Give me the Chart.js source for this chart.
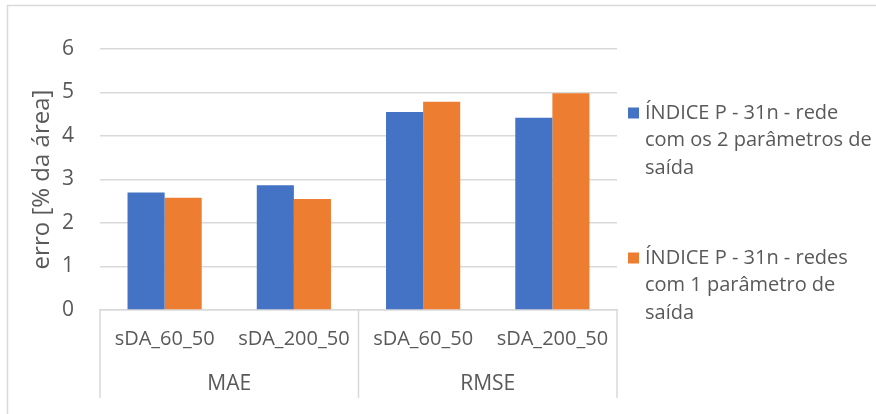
<!DOCTYPE html>
<html>
<head>
<meta charset="utf-8">
<script src="https://cdn.jsdelivr.net/npm/chart.js@4/dist/chart.umd.min.js"></script>
<style>
  html, body { margin: 0; padding: 0; background: #fff; }
  #wrap { width: 876px; height: 414px; position: relative; }
</style>
</head>
<body>
<div id="wrap"><canvas id="c" width="876" height="414"></canvas></div>
<script>
// Error metrics per scenario, grouped by metric
const categories = ['sDA_60_50', 'sDA_200_50', 'sDA_60_50', 'sDA_200_50'];
const groups = ['MAE', 'RMSE'];
const groupOf = [0, 0, 1, 1];

const seriesNames = [
  ['ÍNDICE P - 31n - rede', 'com os 2 parâmetros de', 'saída'],
  ['ÍNDICE P - 31n - redes', 'com 1 parâmetro de', 'saída']
];
const twoOutputNet = [2.70, 2.87, 4.55, 4.42];
const oneOutputNets = [2.58, 2.55, 4.79, 4.98];

const yTicks = [0, 1, 2, 3, 4, 5, 6];

const COLORS = ['#4472C4', '#ED7D31'];
const TEXT = '#595959';
const LINE = '#d9d9d9';
const FONT = "'Open Sans', 'Liberation Sans', sans-serif";

// Frame around the chart
const framePlugin = {
  id: 'frame',
  beforeDraw(chart) {
    const ctx = chart.ctx;
    ctx.save();
    ctx.fillStyle = '#fff';
    ctx.fillRect(0, 0, chart.width, chart.height);
    ctx.strokeStyle = LINE;
    ctx.lineWidth = 1.5;
    ctx.strokeRect(7.5, 5.5, chart.width + 10, chart.height + 10);
    ctx.restore();
  }
};

// Vertical separators between metric groups below the axis
const groupLinesPlugin = {
  id: 'groupLines',
  afterDraw(chart) {
    const xs = chart.scales.x;
    const x2 = chart.scales.x2;
    const n = categories.length;
    const step = (xs.right - xs.left) / n;
    const ctx = chart.ctx;
    const bounds = [0];
    for (let i = 1; i < n; i++) if (groupOf[i] !== groupOf[i - 1]) bounds.push(i);
    bounds.push(n);
    ctx.save();
    ctx.strokeStyle = LINE;
    ctx.lineWidth = 1.5;
    bounds.forEach(b => {
      const x = xs.left + b * step;
      ctx.beginPath();
      ctx.moveTo(x, xs.top);
      ctx.lineTo(x, x2.bottom);
      ctx.stroke();
    });
    ctx.restore();
  }
};

// Legend with wrapped labels to the right of the plot
const wrapLegendPlugin = {
  id: 'wrapLegend',
  afterDraw(chart) {
    const ctx = chart.ctx;
    const area = chart.chartArea;
    const x0 = area.right + 11;
    const lineH = 27.5;
    const itemTops = [area.top + 64, area.top + 209];
    ctx.save();
    ctx.font = '20px ' + FONT;
    ctx.textBaseline = 'middle';
    ctx.fillStyle = TEXT;
    chart.data.datasets.forEach((ds, i) => {
      const y = itemTops[i];
      ctx.fillStyle = ds.backgroundColor;
      ctx.fillRect(x0, y - 5.5, 11, 11);
      ctx.fillStyle = TEXT;
      seriesNames[i].forEach((line, j) => {
        ctx.fillText(line, x0 + 17, y + j * lineH);
      });
    });
    ctx.restore();
  }
};

new Chart(document.getElementById('c'), {
  type: 'bar',
  data: {
    labels: categories,
    datasets: [
      { label: seriesNames[0].join(' '), data: twoOutputNet, backgroundColor: COLORS[0] },
      { label: seriesNames[1].join(' '), data: oneOutputNets, backgroundColor: COLORS[1] }
    ]
  },
  options: {
    responsive: false,
    animation: false,
    devicePixelRatio: 1,
    layout: { padding: { left: 0, top: 49, right: 259, bottom: 16 } },
    datasets: { bar: { categoryPercentage: 0.574, barPercentage: 1.0 } },
    plugins: { legend: { display: false }, tooltip: { enabled: false } },
    scales: {
      y: {
        min: 0, max: 6,
        afterBuildTicks(scale) { scale.ticks = yTicks.map(v => ({ value: v })); },
        afterFit(scale) { scale.width = 100; },
        grid: { color: LINE, lineWidth: 1.5, drawTicks: false },
        border: { display: false },
        ticks: { color: TEXT, font: { family: FONT, size: 21 }, padding: 26 },
        title: {
          display: true, text: 'erro [% da área]', color: TEXT,
          font: { family: FONT, size: 24 }, padding: { top: 28, bottom: 0 }
        }
      },
      x: {
        afterFit(scale) { scale.height = 51; },
        grid: { display: false, drawTicks: false },
        border: { display: true, color: LINE, width: 1.5 },
        ticks: { color: TEXT, font: { family: FONT, size: 20 }, padding: 17, maxRotation: 0, autoSkip: false }
      },
      x2: {
        type: 'category',
        labels: groups,
        position: 'bottom',
        offset: true,
        afterFit(scale) { scale.height = 37; },
        grid: { display: false, drawTicks: false },
        border: { display: false },
        ticks: { color: TEXT, font: { family: FONT, size: 21 }, padding: 10 }
      }
    }
  },
  plugins: [framePlugin, groupLinesPlugin, wrapLegendPlugin]
});
</script>
</body>
</html>
